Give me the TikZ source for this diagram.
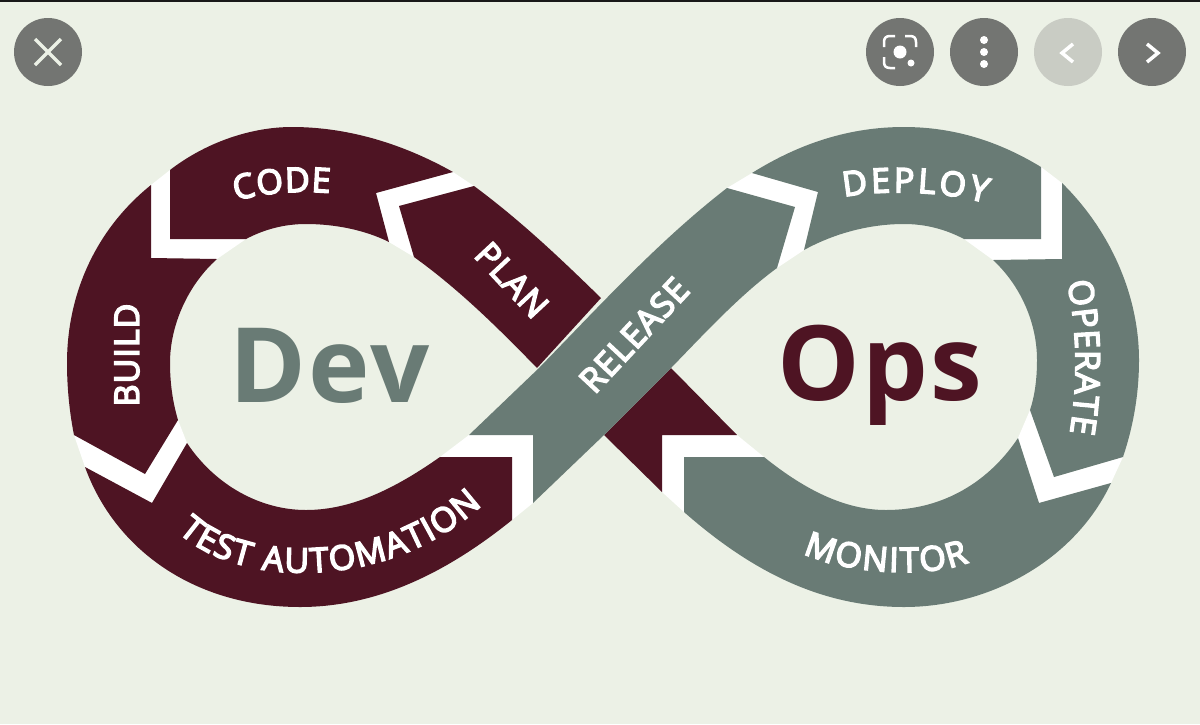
\documentclass[tikz,border=0pt]{standalone}
\usepackage{fontspec}
\setmainfont{Open Sans}
\newfontfamily\lblface{Open Sans}[LetterSpace=3,FakeBold=4.5]
\newfontfamily\bigface{Open Sans}[LetterSpace=2.5]
\usetikzlibrary{decorations.text}
\definecolor{bgc}{HTML}{ECF1E6}
\definecolor{maroon}{HTML}{4E1423}
\definecolor{sage}{HTML}{697B75}
\definecolor{btn}{HTML}{737572}
\definecolor{btnoff}{HTML}{C9CCC4}
\newcommand{\lblfont}{\lblface\fontsize{34}{34}\selectfont\color{white}}
\newcommand{\bigfont}{\bigface\fontsize{104}{104}\selectfont\bfseries}
\tikzset{
  seg/.style={fill=#1,draw=none},
  gap/.style={fill=white,draw=none},
  lbl/.style={font=\lblfont,inner sep=0pt,text=white},
  curved/.style={decorate,decoration={text along path,text align={fit to path},text={#1}}},
  btncirc/.style={circle,minimum size=68pt,inner sep=0pt,fill=#1},
  glyph/.style={draw=white,line width=3.5pt,line cap=butt}
}
\begin{document}
\begin{tikzpicture}[x=1pt,y=-1pt]
\useasboundingbox (0,0) rectangle (1200,724);
\fill[bgc] (0,0) rectangle (1200,724);
\fill[black!90] (0,0) rectangle (1200,2);
% white gaps
\fill[gap] (170,170) -- (151,185) -- (151,258) -- (217,259) -- (246,239) -- (170,239) -- cycle;
\fill[gap] (74,435) -- (85,467) -- (152,503) -- (187,443) -- (178,420) -- (145,474) -- cycle;
\fill[gap] (440,457) -- (469,435) -- (533,435) -- (533,503) -- (512,520) -- (512,457) -- cycle;
\fill[gap] (453,172) -- (474,186) -- (399,206) -- (414,257) -- (389,242) -- (376,193) -- cycle;
\fill[gap] (752,173) -- (727,188) -- (795,207) -- (777,268) -- (804,250) -- (818,192) -- cycle;
\fill[gap] (1041,167) -- (1062,183) -- (1062,259) -- (993,260) -- (964,239) -- (1041,239) -- cycle;
\fill[gap] (1123,457) -- (1111,483) -- (1039,503) -- (1018,438) -- (1030,410) -- (1054,477) -- cycle;
\fill[gap] (662,435) -- (737,435) -- (764,457) -- (684,457) -- (684,512) -- (662,492) -- cycle;
% maroon segments
\fill[seg=maroon] (170,170) .. controls (205,143) and (250,127) .. (292,127)
  .. controls (350,127) and (405,145) .. (453,172) -- (376,193) -- (389,242)
  .. controls (365,230) and (335,224) .. (306,224) .. controls (285,224) and (265,229) .. (246,239)
  -- (170,239) -- cycle;
\fill[seg=maroon] (151,185) .. controls (95,230) and (67,295) .. (67,363)
  .. controls (67,390) and (70,415) .. (74,435) -- (145,474) -- (178,420)
  .. controls (172,400) and (170,380) .. (170,363) .. controls (170,325) and (188,285) .. (217,259)
  -- (151,258) -- cycle;
\fill[seg=maroon] (85,467) .. controls (115,550) and (195,607) .. (300,607)
  .. controls (380,607) and (450,570) .. (512,520) -- (512,457) -- (440,457)
  .. controls (400,485) and (355,510) .. (306,510) .. controls (260,510) and (215,485) .. (187,443)
  -- (152,503) -- cycle;
\fill[seg=maroon] (474,186) .. controls (520,220) and (560,258) .. (601,298)
  -- (537,368) .. controls (500,330) and (460,290) .. (414,257) -- (399,206) -- cycle;
\fill[seg=maroon] (671,368) -- (737,435) -- (662,435) -- (662,492) -- (604,435) -- cycle;
% sage segments
\fill[seg=sage] (752,173) .. controls (800,143) and (850,127) .. (904,127)
  .. controls (955,127) and (1000,142) .. (1041,167) -- (1041,239) -- (964,239)
  .. controls (945,229) and (925,224) .. (904,224) .. controls (870,224) and (835,233) .. (804,250)
  -- (818,192) -- cycle;
\fill[seg=sage] (1062,183) .. controls (1110,230) and (1139,295) .. (1139,360)
  .. controls (1139,395) and (1133,427) .. (1123,457) -- (1054,477) -- (1030,410)
  .. controls (1035,395) and (1037,378) .. (1037,360) .. controls (1037,322) and (1020,285) .. (993,260)
  -- (1062,259) -- cycle;
\fill[seg=sage] (1111,483) .. controls (1075,560) and (990,607) .. (904,607)
  .. controls (820,607) and (750,570) .. (684,512) -- (684,457) -- (764,457)
  .. controls (805,490) and (845,510) .. (886,510) .. controls (945,510) and (990,480) .. (1018,438)
  -- (1039,503) -- cycle;
\fill[seg=sage] (469,435) -- (539,368) .. controls (605,300) and (660,240) .. (727,188)
  -- (795,207) -- (777,268) .. controls (740,295) and (705,333) .. (671,368)
  -- (604,435) -- (533,503) -- (533,435) -- cycle;
% labels
\path[curved={|\lblfont|CODE}] (236,201) .. controls (260,193) and (300,190) .. (330,193);
\node[lbl,rotate=90] (build) at (127,355) {BUILD};
\path[curved={|\lblfont|TEST AUTOMATION}] (178,532) .. controls (240,590) and (390,590) .. (482,505);
\node[lbl,rotate=-47] (plan) at (512,280) {PLAN};
\node[lbl,rotate=47] (release) at (634,335) {RELEASE};
\path[curved={|\lblfont|DEPLOY}] (844,197) .. controls (875,190) and (940,190) .. (986,203);
\path[curved={|\lblfont|OPERATE}] (1067,282) .. controls (1078,330) and (1078,385) .. (1070,433);
\path[curved={|\lblfont|MONITOR}] (803,553) .. controls (840,572) and (925,580) .. (969,562);
\node[anchor=base west,inner sep=0pt,font=\bigfont,text=sage] (dev) at (229,402) {Dev};
\node[anchor=base west,inner sep=0pt,font=\bigfont,text=maroon] (ops) at (777,400) {Ops};
% window buttons
\node[btncirc=btn] (close) at (48,52) {};
\draw[line width=3.5pt,draw=bgc] (35,39) -- (61,65) (61,39) -- (35,65);
\node[btncirc=btn] (lens) at (900,52) {};
\fill[white] (900,52) circle (6.5) (911,63) circle (3.5);
\draw[white,line width=2.5pt] (884,47) -- (884,42) .. controls (884,38) and (886,36) .. (890,36) -- (895,36)
  (905,36) -- (910,36) .. controls (914,36) and (916,38) .. (916,42) -- (916,47)
  (884,57) -- (884,62) .. controls (884,66) and (886,68) .. (890,68) -- (895,68);
\node[btncirc=btn] (more) at (984,52) {};
\fill[white] (984,40) circle (4) (984,52) circle (4) (984,64) circle (4);
\node[btncirc=btnoff] (prev) at (1068,52) {};
\draw[glyph] (1073,44) -- (1062,53) -- (1073,62);
\node[btncirc=btn] (next) at (1152,52) {};
\draw[glyph] (1147,44) -- (1158,53) -- (1147,62);
\end{tikzpicture}
\end{document}
